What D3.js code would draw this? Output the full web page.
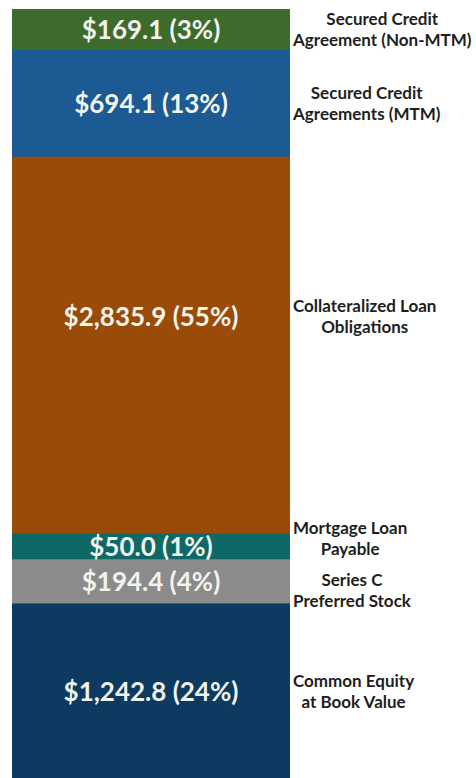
<!DOCTYPE html>
<html>
<head>
<meta charset="utf-8">
<script src="https://cdn.jsdelivr.net/npm/d3@7"></script>
<style>
  html, body { margin: 0; padding: 0; background: #ffffff; }
  svg { display: block; }
</style>
</head>
<body>
<svg id="chart" width="476" height="778"></svg>
<script>
// Capital structure, $ millions, stacked top to bottom
const categories = [
  ["Secured Credit", "Agreement (Non-MTM)"],
  ["Secured Credit", "Agreements (MTM)"],
  ["Collateralized Loan", "Obligations"],
  ["Mortgage Loan", "Payable"],
  ["Series C", "Preferred Stock"],
  ["Common Equity", "at Book Value"]
];
const amounts = [169.1, 694.1, 2835.9, 50.0, 194.4, 1242.8];
const shares = [3, 13, 55, 1, 4, 24];
const colors = ["#3d6b2c", "#1b5a93", "#994b07", "#0e6866", "#8b8b8b", "#0c3a61"];

const svg = d3.select("#chart");
const barLeft = 12, barRight = 290, barTop = 9;

// Band thickness: a fixed room for the label plus a part proportional to the amount
const band = d3.scaleLinear().domain([0, 3000]).range([19.5, 397.5]);

let acc = barTop;
const rows = amounts.map((v, i) => {
  const h = band(v);
  const r = { i, v, y0: acc, h };
  acc += h;
  return r;
});

const x = d3.scaleLinear().domain([0, 1]).range([barLeft, barRight]);
const fmt = d3.format(",.1f");
const g = svg.append("g");

g.selectAll("rect.seg")
  .data(rows)
  .join("rect")
  .attr("class", "seg")
  .attr("x", x(0))
  .attr("width", x(1) - x(0))
  .attr("y", d => d.y0)
  .attr("height", d => d.h + 0.5)
  .attr("fill", d => colors[d.i]);

// labels sit at the middle of a band, but no lower than 160px into tall bands
const labelY = d => d.y0 + Math.min(d.h / 2, 160);

g.selectAll("text.val")
  .data(rows)
  .join("text")
  .attr("class", "val")
  .attr("x", (x(0) + x(1)) / 2)
  .attr("y", labelY)
  .attr("dy", "0.36em")
  .attr("text-anchor", "middle")
  .attr("font-family", "Lato, 'Open Sans', sans-serif")
  .attr("font-weight", 700)
  .attr("font-size", 26)
  .attr("fill", "#f1f3ec")
  .text(d => `$${fmt(d.v)} (${shares[d.i]}%)`);

// category names: keep two-line blocks at least minGap apart
const minGap = 52;
const catY = rows.map(labelY);
for (let pass = 0; pass < 5; pass++) {
  for (let k = 1; k < catY.length; k++) {
    const gap = catY[k] - catY[k - 1];
    if (gap < minGap) {
      const push = (minGap - gap) / 2;
      catY[k - 1] -= push;
      catY[k] += push;
    }
  }
}

// two centred lines in a block starting right of the bar
const catLeft = 293, lineGap = 21;
const cat = g.selectAll("g.cat")
  .data(rows)
  .join("g")
  .attr("class", "cat");

cat.each(function(d) {
  const lines = categories[d.i];
  const texts = d3.select(this).selectAll("text")
    .data(lines)
    .join("text")
    .attr("font-family", "Lato, 'Open Sans', sans-serif")
    .attr("font-weight", 700)
    .attr("font-size", 17)
    .attr("fill", "#1e1e1e")
    .attr("text-anchor", "middle")
    .attr("y", (t, k) => catY[d.i] + (k - 0.5) * lineGap)
    .attr("dy", "0.36em")
    .text(t => t);
  let maxW = 0;
  texts.each(function() { maxW = Math.max(maxW, this.getComputedTextLength()); });
  texts.attr("x", catLeft + maxW / 2);
});
</script>
</body>
</html>
